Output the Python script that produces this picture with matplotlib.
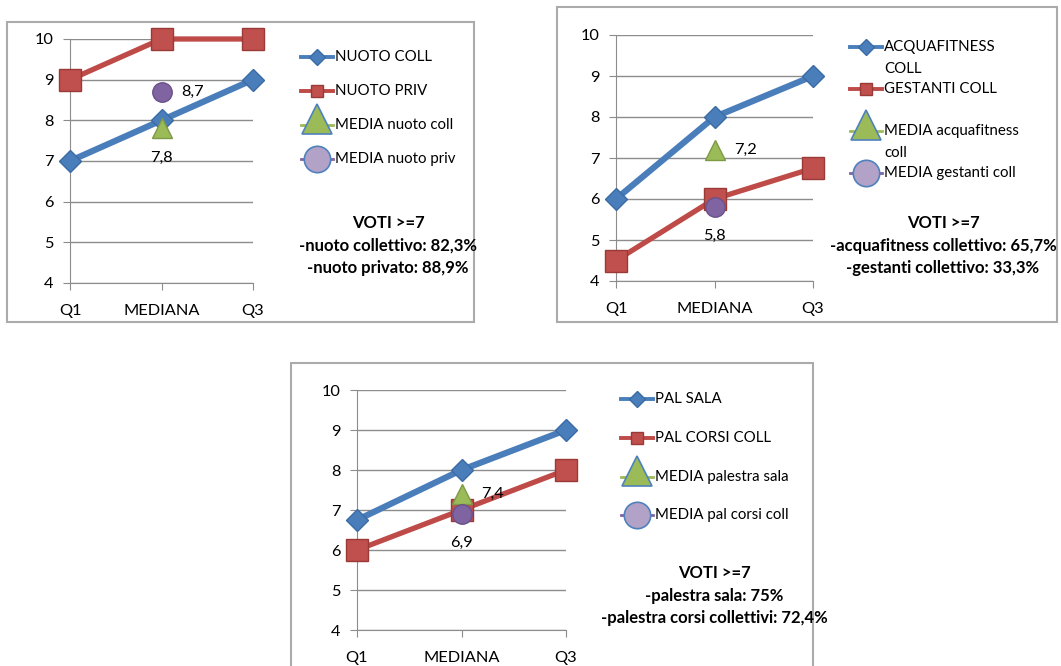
import matplotlib.pyplot as plt
from matplotlib.lines import Line2D
from matplotlib.patches import Rectangle

plt.rcParams['font.family'] = ['Lato', 'DejaVu Sans']

W, H = 1061, 666

categories = ["Q1", "MEDIANA", "Q3"]

# nuoto
nuoto_coll = [7, 8, 9]
nuoto_priv = [9, 10, 10]
media_nuoto_coll = 7.8
media_nuoto_priv = 8.7
voti_nuoto = ["VOTI >=7", "-nuoto collettivo: 82,3%", "-nuoto privato: 88,9%"]

# acquafitness / gestanti
acquafitness_coll = [6, 8, 9]
gestanti_coll = [4.5, 6, 6.75]
media_acquafitness = 7.2
media_gestanti = 5.8
voti_acqua = ["VOTI >=7", "-acquafitness collettivo: 65,7%", "-gestanti collettivo: 33,3%"]

# palestra
pal_sala = [6.75, 8, 9]
pal_corsi_coll = [6, 7, 8]
media_pal_sala = 7.4
media_pal_corsi = 6.9
voti_pal = ["VOTI >=7", "-palestra sala: 75%", "-palestra corsi collettivi: 72,4%"]

BLUE = '#4A7EBB'
RED = '#BE4B48'
GREEN = '#9BBB59'
PURPLE = '#8064A2'
GRID = '#8C8C8C'
FS = 11.8      # ticks and data labels
FS_LEG = 10.8  # legend
FS_BOLD = 12   # VOTI block

fig = plt.figure(figsize=(W / 100, H / 100), dpi=100)


def fx(x):
    return x / W


def fy(y):
    return 1 - y / H


def make_axes(left, right, top, bottom):
    ax = fig.add_axes([fx(left), fy(bottom), (right - left) / W, (bottom - top) / H])
    ax.set_xlim(0, 2)
    ax.set_ylim(4, 10)
    ax.set_yticks(range(4, 11))
    ax.set_xticks(range(len(categories)))
    ax.set_xticklabels(categories)
    ax.yaxis.grid(True, color=GRID, lw=1)
    ax.set_axisbelow(True)
    for s in ['top', 'right']:
        ax.spines[s].set_visible(False)
    for s in ['left', 'bottom']:
        ax.spines[s].set_color(GRID)
    ax.tick_params(axis='y', length=5, color=GRID, labelsize=FS, pad=7)
    ax.tick_params(axis='x', length=5, color=GRID, labelsize=FS, pad=10)
    return ax


def plot_panel(ax, s1, s2, m1, m2, m1_below):
    x = range(len(categories))
    ax.plot(x, s1, color=BLUE, lw=4.5, marker='D', ms=11, mfc=BLUE, mec='#3A6BA5',
            clip_on=False, zorder=3)
    ax.plot(x, s2, color=RED, lw=3.8, marker='s', ms=16, mfc='#C0504D', mec='#9A3A37',
            clip_on=False, zorder=3)
    ax.plot([1], [m1], marker='^', ms=15, mfc=GREEN, mec='#7D9A45', ls='none',
            clip_on=False, zorder=4)
    ax.plot([1], [m2], marker='o', ms=14, mfc=PURPLE, mec='#6A5189', ls='none',
            clip_on=False, zorder=4)
    for val, below in [(m1, m1_below), (m2, not m1_below)]:
        txt = f"{val:.1f}".replace('.', ',')
        if below:
            ax.annotate(txt, (1, val), xytext=(0, -21), textcoords='offset points',
                        ha='center', va='center', fontsize=FS, zorder=5)
        else:
            ax.annotate(txt, (1, val), xytext=(14, 0), textcoords='offset points',
                        ha='left', va='center', fontsize=FS, zorder=5)


def legend_entry(x0, x1, y, kind, label, y2=None):
    xs = [fx(x0), fx((x0 + x1) / 2), fx(x1)]
    if kind == 'blue':
        ln = Line2D(xs, [fy(y)] * 3, transform=fig.transFigure, color=BLUE, lw=2.8,
                    marker='D', ms=8, markevery=[1], mfc=BLUE, mec='#3A6BA5')
        fig.add_artist(ln)
    elif kind == 'red':
        ln = Line2D(xs, [fy(y)] * 3, transform=fig.transFigure, color=RED, lw=2.8,
                    marker='s', ms=9, markevery=[1], mfc='#C0504D', mec='#9A3A37')
        fig.add_artist(ln)
    elif kind == 'tri':
        fig.add_artist(Line2D(xs, [fy(y)] * 3, transform=fig.transFigure,
                              color=GREEN, lw=2))
        fig.add_artist(Line2D([xs[1]], [fy(y - 6)], transform=fig.transFigure, ls='none',
                              marker='^', ms=22, mfc=GREEN, mec='#4F81BD', mew=1.2))
    else:
        fig.add_artist(Line2D(xs, [fy(y)] * 3, transform=fig.transFigure,
                              color=PURPLE, lw=2))
        fig.add_artist(Line2D([xs[1]], [fy(y)], transform=fig.transFigure, ls='none',
                              marker='o', ms=19, mfc='#B3A2C7', mec='#4F81BD', mew=1.2))
    # wrapped labels: each line placed on its own row
    rows = label.split("\n")
    ys = [y] if y2 is None else [y, y2]
    for ty, t in zip(ys, rows):
        fig.text(fx(x1 + 2), fy(ty), t, ha='left', va='center', fontsize=FS_LEG)


def voti(cx, ys, lines):
    for y, t in zip(ys, lines):
        fig.text(fx(cx), fy(y), t, ha='center', va='center', fontsize=FS_BOLD,
                 fontweight='bold')


def border(x0, y0, x1, y1):
    fig.add_artist(Rectangle((fx(x0), fy(y1)), (x1 - x0) / W, (y1 - y0) / H,
                             transform=fig.transFigure, fill=False, ec='#ABABAB', lw=1.5))


# panel 1: nuoto
border(7, 22, 474, 322)
ax1 = make_axes(70, 253, 39, 283)
plot_panel(ax1, nuoto_coll, nuoto_priv, media_nuoto_coll, media_nuoto_priv, True)
legend_entry(301, 333, 57, 'blue', "NUOTO COLL")
legend_entry(301, 333, 91, 'red', "NUOTO PRIV")
legend_entry(301, 333, 125, 'tri', "MEDIA nuoto coll")
legend_entry(301, 333, 159, 'circ', "MEDIA nuoto priv")
voti(388, [223, 246, 268], voti_nuoto)

# panel 2: acquafitness / gestanti
border(557, 7, 1057, 322)
ax2 = make_axes(616, 813, 35, 281)
plot_panel(ax2, acquafitness_coll, gestanti_coll, media_acquafitness, media_gestanti, False)
legend_entry(850, 882, 47, 'blue', "ACQUAFITNESS\nCOLL", y2=69)
legend_entry(850, 882, 89, 'red', "GESTANTI COLL")
legend_entry(850, 882, 131, 'tri', "MEDIA acquafitness\ncoll", y2=153)
legend_entry(850, 882, 173, 'circ', "MEDIA gestanti coll")
voti(943, [223, 246, 268], voti_acqua)

# panel 3: palestra
border(291, 363, 813, 700)
ax3 = make_axes(357, 566, 390, 630)
plot_panel(ax3, pal_sala, pal_corsi_coll, media_pal_sala, media_pal_corsi, False)
legend_entry(621, 653, 399, 'blue', "PAL SALA")
legend_entry(621, 653, 438, 'red', "PAL CORSI COLL")
legend_entry(621, 653, 477, 'tri', "MEDIA palestra sala")
legend_entry(621, 653, 515, 'circ', "MEDIA pal corsi coll")
voti(714, [573, 596, 618], voti_pal)

fig.savefig("out.png", dpi=100)
